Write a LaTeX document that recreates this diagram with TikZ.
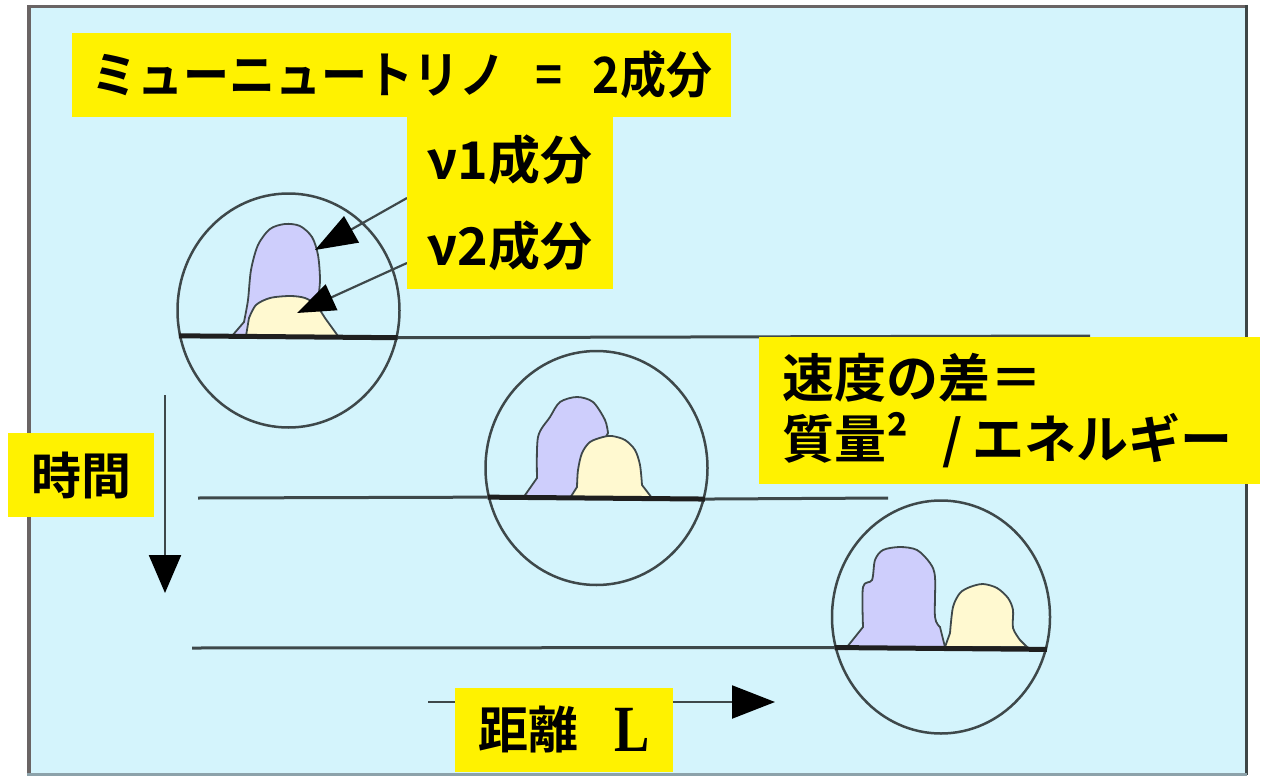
\documentclass[tikz,border=0pt]{standalone}
\usepackage{xcolor}
\usepackage{graphicx}
\usepackage{fontspec}
\usepackage{tikz}
\usetikzlibrary{shapes,arrows.meta,positioning}

\newfontfamily\jpfont{Noto Sans CJK JP Bold}
\newfontfamily\lfont{Liberation Serif}

\definecolor{panel}{RGB}{212,244,252}
\definecolor{rim}{RGB}{106,100,100}
\definecolor{rimdark}{RGB}{62,70,70}
\definecolor{rimlight}{RGB}{140,162,170}
\definecolor{ink}{RGB}{62,72,74}
\definecolor{nuviolet}{RGB}{206,206,252}
\definecolor{nucream}{RGB}{255,249,208}

\tikzstyle{ybox} = [rectangle, fill=yellow, inner sep=0pt, outer sep=0pt, text centered, font=\jpfont\fontsize{50}{61}\selectfont]
\tikzstyle{ring} = [ellipse, draw=ink, line width=2.5pt, minimum width=222pt, minimum height=234pt, inner sep=0pt]
\tikzstyle{track} = [draw=ink, line width=3pt]
\tikzstyle{base} = [draw=black!88, line width=5pt]
\tikzstyle{peak} = [draw=ink, line width=1.8pt]
\tikzstyle{line} = [draw=ink, line width=2.2pt]

\begin{document}
\begin{tikzpicture}[x=1pt, y=-1pt]
\useasboundingbox (0,0) rectangle (1261,776);

\fill[panel] (27,5) rectangle (1247,775);
\draw[rim, line width=4pt] (29,5) -- (29,775);
\draw[rim, line width=3pt] (27,6.5) -- (1247,6.5);
\draw[rimdark, line width=3pt] (1246,5) -- (1246,775);
\draw[rimlight, line width=3pt] (27,774) -- (1247,774);

\node[ring] (ring_a) at (288.5,310.5) {};
\node[ring] (ring_b) at (596.5,468) {};
\node[ring, minimum width=218pt, minimum height=233pt] (ring_c) at (941,617) {};

\coordinate (track_a_end) at (1090,336);
\coordinate (track_b_start) at (198,498);
\coordinate (track_b_end) at (888,498);
\coordinate (track_c_start) at (192,648);

\path[track] (ring_a.346.75) -- (track_a_end);
\path[track] (track_b_start) -- (ring_b.195.6);
\path[track] (ring_b.344.4) -- (track_b_end);
\path[track] (track_c_start) -- (ring_c.196.4);

\filldraw[peak, fill=nuviolet] (232,336) -- plot[smooth] coordinates {(244,322) (248,300) (251,270) (258,245) (270,229) (285,224) (300,226) (312,237) (318,255) (320,280) (318,300)} -- (318,336) -- cycle;
\filldraw[peak, fill=nucream] (246,336) -- plot[smooth] coordinates {(249,318) (256,305) (270,298) (290,296) (305,298) (316,305) (325,318)} -- (338,336) -- cycle;

\filldraw[peak, fill=nuviolet] (523,498) -- plot[smooth] coordinates {(537,478) (538,437) (550,417) (560,402) (577,397) (593,402) (605,420) (608,433)} -- (575,498) -- cycle;
\filldraw[peak, fill=nucream] (570,498) -- plot[smooth] coordinates {(577,487) (578,470) (582,453) (590,442) (603,437) (612,436) (625,440) (635,450) (640,465) (642,485)} -- (652,498) -- cycle;

\filldraw[peak, fill=nuviolet] (847,647) -- plot[smooth] coordinates {(863,627) (863,587) (872,580) (875,560) (883,550) (900,547) (917,550) (930,563) (935,577) (935,617) (940,627)} -- (945,647) -- cycle;
\filldraw[peak, fill=nucream] (945,647) -- plot[smooth] coordinates {(950,633) (953,607) (960,593) (970,587) (983,584) (997,588) (1008,598) (1013,610) (1013,628) (1020,640)} -- (1027,647) -- cycle;

\path[base] (ring_a.193.25) -- (ring_a.346.75);
\path[base] (ring_b.195.6) -- (ring_b.344.4);
\path[base] (ring_c.196.4) -- (ring_c.343.6);

\coordinate (nu_one_from) at (407,198);
\coordinate (nu_one_tip) at (315,250);
\coordinate (nu_two_from) at (407,263);
\coordinate (nu_two_tip) at (297,313);
\path[line, -{Triangle[length=42pt,width=30pt,color=black]}] (nu_one_from) -- (nu_one_tip);
\path[line, -{Triangle[length=38pt,width=28pt,color=black]}] (nu_two_from) -- (nu_two_tip);

\coordinate (time_from) at (165,395);
\coordinate (time_to) at (165,593);
\path[line, -{Triangle[length=38pt,width=32pt,color=black]}] (time_from) -- (time_to);

\coordinate (dist_from) at (428,702);
\coordinate (dist_to) at (775,702);
\path[line, -{Triangle[length=43pt,width=33pt,color=black]}] (dist_from) -- (dist_to);

\node[ybox, minimum width=659pt, minimum height=84pt] (title) at (401.5,75) {\scalebox{0.92}[1]{ミューニュートリノ\hspace{33pt}=\hspace{33pt}2成分}};
\node[ybox, minimum width=206pt, minimum height=86pt, font=\jpfont\fontsize{52}{61}\selectfont] (nu_one) at (510,160) {ν1成分};
\node[ybox, minimum width=206pt, minimum height=86pt, font=\jpfont\fontsize{52}{61}\selectfont, below=0pt of nu_one] (nu_two) {ν2成分};
\node[ybox, anchor=north west, minimum width=501pt, minimum height=147pt, text width=455pt, inner xsep=23pt, align=left, font=\jpfont\fontsize{52}{61}\selectfont] (speed) at (759,337) {速度の差＝\\質量²\hspace{34pt}/\hspace{10pt}エネルギー};
\node[ybox, minimum width=146pt, minimum height=84pt] (time) at (81,475) {時間};
\node[ybox, minimum width=218pt, minimum height=84pt] (dist) at (564,730) {距離\hspace{36pt}\raisebox{-3pt}{\scalebox{0.8}[1]{\lfont\bfseries\fontsize{66}{66}\selectfont L}}};

\end{tikzpicture}
\end{document}
